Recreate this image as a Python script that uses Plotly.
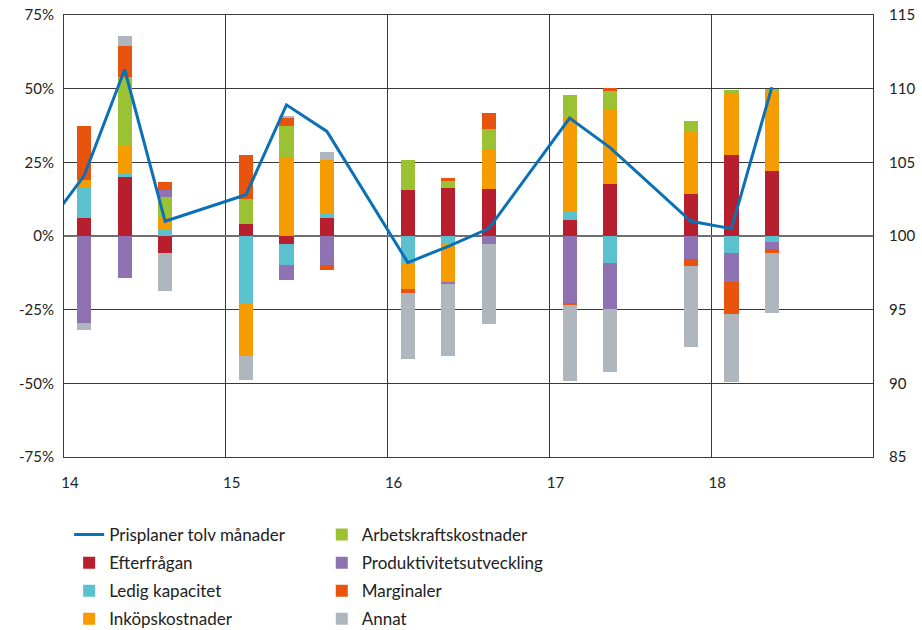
import plotly.graph_objects as go

# Quarter positions (year + quarter midpoint) for the survey rounds
quarters = [14.125, 14.375, 14.625, 15.125, 15.375, 15.625,
            16.125, 16.375, 16.625, 17.125, 17.375, 17.875,
            18.125, 18.375]

# Contributions (percent net balance) by factor
efterfragan = [6.0, 20.0, -5.8, 4.0, -2.7, 6.1, 15.6, 16.3, 16.1, 5.5, 17.6, 14.2, 27.5, 22.2]
ledig_kapacitet = [10.8, 1.4, 2.0, -22.6, -7.2, 1.7, -9.6, -2.7, 0.0, 3.0, -9.1, 0.0, -5.6, -1.9]
inkopskostnader = [2.2, 9.1, 4.0, -18.2, 26.8, 18.1, -8.3, -13.0, 13.5, 31.8, 25.0, 21.4, 21.3, 26.7]
arbetskraft = [0.0, 23.3, 7.2, 8.5, 10.6, 0.0, 10.1, 2.3, 6.8, 7.4, 6.7, 3.5, 0.6, 0.9]
produktivitet = [-29.4, -14.3, 2.3, 0.0, -5.1, -9.9, 0.0, -0.7, -2.8, -22.7, -15.6, -7.7, -10.1, -2.5]
marginaler = [18.5, 10.8, 2.9, 15.1, 2.5, -1.6, -1.5, 1.0, 5.4, -0.7, 0.8, -2.5, -10.7, -1.5]
annat = [-2.5, 3.2, -13.0, -8.0, 0.7, 2.6, -22.4, -24.2, -27.2, -25.7, -21.3, -27.6, -23.2, -20.2]

# Price plans twelve months ahead (index, right axis)
line_x = [13.875, 14.125, 14.375, 14.625, 15.125, 15.375, 15.625,
          16.125, 16.375, 16.625, 17.125, 17.375, 17.875, 18.125, 18.375]
prisplaner = [100.4, 104.1, 111.3, 101.0, 102.8, 108.9, 107.1,
              98.2, 99.3, 100.5, 108.0, 106.0, 101.0, 100.5, 110.1]

left_ticks = [75, 50, 25, 0, -25, -50, -75]
left_labels = ["75%", "50%", "25%", "0%", "-25%", "-50%", "-75%"]
right_ticks = [115, 110, 105, 100, 95, 90, 85]
x_ticks = [14, 15, 16, 17, 18]
x_labels = ["14", "15", "16", "17", "18"]

series = [
    ("Efterfrågan", efterfragan, "#B71F2E", "legend", 2),
    ("Ledig kapacitet", ledig_kapacitet, "#5BC1CF", "legend", 3),
    ("Inköpskostnader", inkopskostnader, "#F59C00", "legend", 4),
    ("Arbetskraftskostnader", arbetskraft, "#9BC232", "legend2", 1),
    ("Produktivitetsutveckling", produktivitet, "#8E72B1", "legend2", 2),
    ("Marginaler", marginaler, "#E8530E", "legend2", 3),
    ("Annat", annat, "#B0B6BE", "legend2", 4),
]

FONT = "Lato"
fig = go.Figure()

for name, vals, color, leg, rank in series:
    fig.add_trace(go.Bar(
        x=quarters, y=vals, name=name, width=0.088,
        marker=dict(color=color, line=dict(width=0)),
        legend=leg, legendrank=rank, legendgroup=name,
    ))

fig.add_trace(go.Scatter(
    x=line_x, y=prisplaner, name="Prisplaner tolv månader", mode="lines",
    line=dict(color="#0B71B6", width=3), yaxis="y2",
    legend="legend", legendrank=1, legendgroup="pris",
))

grid = "#3a3a3a"
fig.update_layout(
    width=922, height=630,
    margin=dict(l=64, r=49, t=15, b=173, autoexpand=False),
    plot_bgcolor="white", paper_bgcolor="white",
    barmode="relative", bargap=0,
    font=dict(family=FONT, size=15, color="#222222"),
    xaxis=dict(
        range=[14, 19], tickvals=x_ticks, ticktext=x_labels,
        showgrid=True, gridcolor=grid, gridwidth=1,
        showline=True, linecolor=grid, linewidth=1, mirror=True,
        ticks="", zeroline=False, ticklabelshift=6, ticklabelstandoff=12,
    ),
    yaxis=dict(
        range=[-75, 75], tickvals=left_ticks, ticktext=left_labels,
        showgrid=True, gridcolor=grid, gridwidth=1,
        zeroline=True, zerolinecolor="#6f6f6f", zerolinewidth=1.5,
        showline=True, linecolor=grid, linewidth=1, ticks="",
        ticklabelstandoff=6,
    ),
    yaxis2=dict(
        range=[85, 115], tickvals=right_ticks, overlaying="y", side="right",
        showgrid=False, zeroline=False, showline=True, linecolor=grid,
        linewidth=1, ticks="", ticklabelstandoff=12,
    ),
    legend=dict(
        orientation="v", xref="container", yref="container",
        x=0.075, y=1 - 517 / 630, xanchor="left", yanchor="top",
        font=dict(family=FONT, size=17, color="#222222"),
        tracegroupgap=3, bgcolor="rgba(0,0,0,0)",
    ),
    legend2=dict(
        orientation="v", xref="container", yref="container",
        x=0.349, y=1 - 517 / 630, xanchor="left", yanchor="top",
        font=dict(family=FONT, size=17, color="#222222"),
        tracegroupgap=3, bgcolor="rgba(0,0,0,0)",
    ),
)

fig.write_html("out.html")
